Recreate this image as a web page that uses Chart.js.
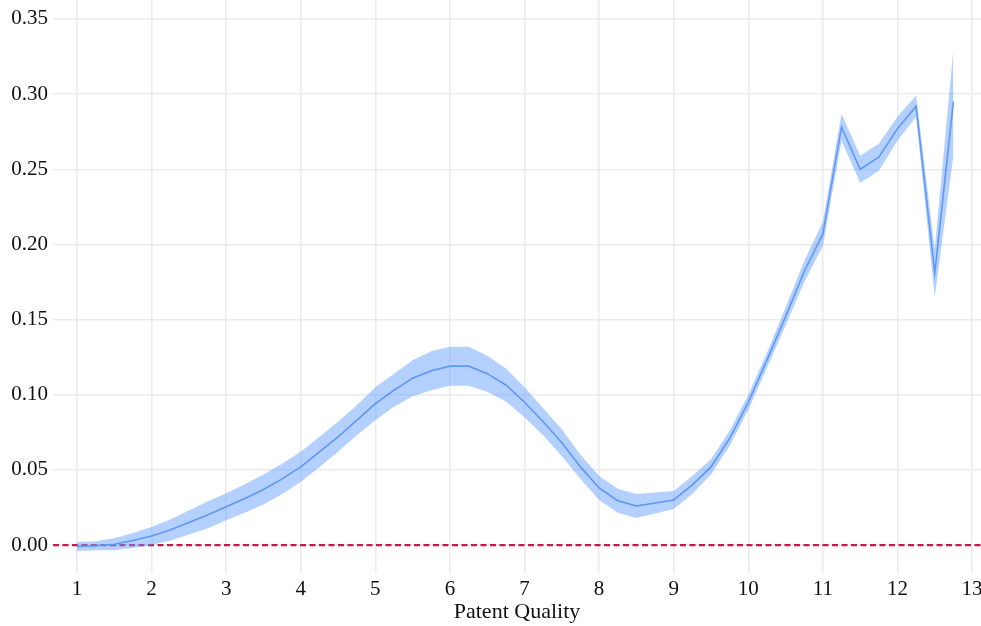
<!DOCTYPE html>
<html lang="en">
<head>
    <meta charset="UTF-8"/>
    <title>Patent Quality</title>
    <script src="https://cdn.jsdelivr.net/npm/chart.js"></script>
    <style>
        html, body { margin: 0; padding: 0; background: #fff; }
        .chart-container { width: 981px; height: 626px; position: relative; }
    </style>
</head>
<body>
    <div class="chart-container">
        <canvas id="myChart"></canvas>
    </div>
    <script>
        // data
        var quality = [1, 1.25, 1.5, 1.75, 2, 2.25, 2.5, 2.75, 3, 3.25, 3.5, 3.75,
                       4, 4.25, 4.5, 4.75, 5, 5.25, 5.5, 5.75, 6, 6.25, 6.5, 6.75,
                       7, 7.25, 7.5, 7.75, 8, 8.25, 8.5, 8.75, 9, 9.25, 9.5, 9.75,
                       10, 10.25, 10.5, 10.75, 11, 11.25, 11.5, 11.75, 12, 12.25, 12.5, 12.75];
        var estimate = [-0.001, -0.0005, 0.0005, 0.003, 0.006, 0.010, 0.015, 0.020, 0.0255, 0.031, 0.037, 0.044,
                        0.052, 0.062, 0.072, 0.083, 0.094, 0.103, 0.111, 0.116, 0.119, 0.119, 0.114, 0.1065,
                        0.095, 0.082, 0.068, 0.052, 0.038, 0.0295, 0.026, 0.028, 0.030, 0.040, 0.052, 0.071,
                        0.095, 0.123, 0.152, 0.182, 0.207, 0.278, 0.250, 0.258, 0.277, 0.292, 0.181, 0.295];
        var lower = [-0.004, -0.0035, -0.0035, -0.002, 0.000, 0.003, 0.007, 0.011, 0.0165, 0.0215, 0.027, 0.034,
                     0.042, 0.052, 0.062, 0.073, 0.083, 0.092, 0.099, 0.103, 0.106, 0.106, 0.102, 0.0955,
                     0.085, 0.073, 0.059, 0.044, 0.030, 0.0215, 0.018, 0.021, 0.024, 0.034, 0.047, 0.066,
                     0.090, 0.118, 0.146, 0.175, 0.199, 0.269, 0.241, 0.249, 0.269, 0.285, 0.165, 0.259];
        var upper = [0.002, 0.0025, 0.0045, 0.008, 0.012, 0.017, 0.023, 0.029, 0.0345, 0.0405, 0.047, 0.054,
                     0.062, 0.072, 0.082, 0.093, 0.105, 0.114, 0.123, 0.129, 0.132, 0.132, 0.126, 0.1175,
                     0.105, 0.091, 0.077, 0.060, 0.046, 0.0375, 0.034, 0.035, 0.036, 0.046, 0.057, 0.076,
                     0.100, 0.128, 0.158, 0.189, 0.215, 0.287, 0.259, 0.267, 0.285, 0.299, 0.197, 0.330];
        var xTicks = [1, 2, 3, 4, 5, 6, 7, 8, 9, 10, 11, 12, 13];
        var yTicks = [0, 0.05, 0.10, 0.15, 0.20, 0.25, 0.30, 0.35];
        var xMin = 0.678, xMax = 13.12;
        var yMin = -0.0186, yMax = 0.3626;
        var refLine = 0;

        function pts(ys) {
            return quality.map(function (x, i) { return { x: x, y: ys[i] }; });
        }

        var serif = "'Liberation Serif', 'DejaVu Serif', serif";
        var tickFont = { family: serif, size: 21 };
        var gridColor = '#ebebeb';

        var ctx = document.getElementById('myChart').getContext('2d');
        var myChart = new Chart(ctx, {
            type: 'line',
            data: {
                datasets: [
                    {
                        label: 'zero',
                        data: [{ x: xMin, y: refLine }, { x: xMax, y: refLine }],
                        borderColor: '#c8174a',
                        borderWidth: 2.2,
                        borderDash: [6, 3.5],
                        pointRadius: 0,
                        fill: false,
                        order: 4
                    },
                    {
                        label: 'lower',
                        data: pts(lower),
                        borderWidth: 0,
                        pointRadius: 0,
                        fill: false,
                        order: 3
                    },
                    {
                        label: 'upper',
                        data: pts(upper),
                        borderWidth: 0,
                        pointRadius: 0,
                        backgroundColor: 'rgba(97, 156, 255, 0.48)',
                        fill: '-1',
                        order: 2
                    },
                    {
                        label: 'estimate',
                        data: pts(estimate),
                        borderColor: '#5f97f5',
                        borderWidth: 1.6,
                        pointRadius: 0,
                        fill: false,
                        order: 1
                    }
                ]
            },
            options: {
                responsive: true,
                maintainAspectRatio: false,
                animation: false,
                devicePixelRatio: 1,
                layout: { padding: 0 },
                elements: { line: { tension: 0 } },
                plugins: {
                    legend: { display: false },
                    tooltip: { enabled: false }
                },
                scales: {
                    x: {
                        type: 'linear',
                        min: xMin,
                        max: xMax,
                        afterBuildTicks: function (axis) {
                            axis.ticks = xTicks.map(function (v) { return { value: v }; });
                        },
                        afterFit: function (scale) {
                            scale.height = 53;
                            scale.paddingLeft = 0;
                            scale.paddingRight = 0;
                        },
                        grid: { color: gridColor, lineWidth: 1.5, drawTicks: false },
                        border: { display: false },
                        ticks: {
                            font: tickFont,
                            color: '#111',
                            padding: 4,
                            maxRotation: 0,
                            autoSkip: false,
                            callback: function (v) { return String(v); }
                        },
                        title: {
                            display: true,
                            text: 'Patent Quality',
                            font: { family: serif, size: 22 },
                            color: '#111',
                            padding: { top: 0, bottom: 1 }
                        }
                    },
                    y: {
                        type: 'linear',
                        min: yMin,
                        max: yMax,
                        afterBuildTicks: function (axis) {
                            axis.ticks = yTicks.map(function (v) { return { value: v }; });
                        },
                        afterFit: function (scale) {
                            scale.width = 53;
                            scale.paddingTop = 0;
                            scale.paddingBottom = 0;
                        },
                        grid: { color: gridColor, lineWidth: 1.5, drawTicks: false },
                        border: { display: false },
                        ticks: {
                            font: tickFont,
                            color: '#111',
                            padding: 5,
                            autoSkip: false,
                            callback: function (v) { return v.toFixed(2); }
                        }
                    }
                }
            }
        });
    </script>
</body>
</html>
